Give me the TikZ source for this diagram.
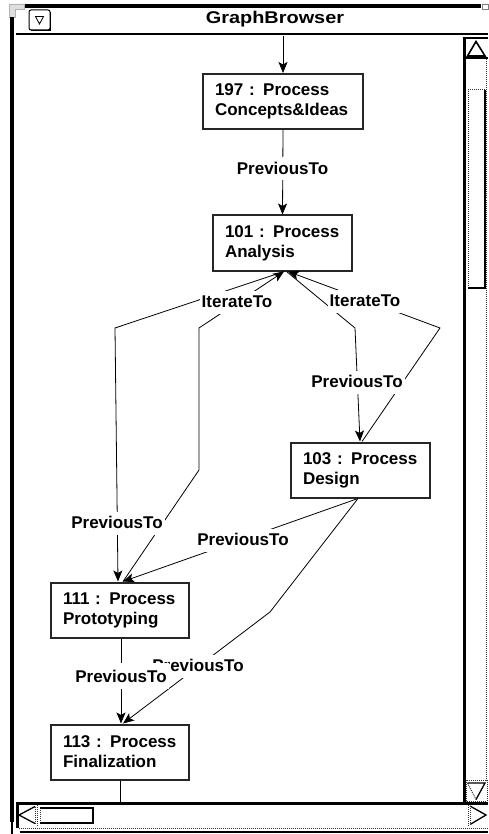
\documentclass[tikz,border=0pt]{standalone}
\usepackage{fontspec}
\setmainfont{Liberation Sans}
\newfontfamily\boxfont{Liberation Sans}
\usetikzlibrary{arrows.meta,calc}

\tikzset{
  proc/.style={draw=black!85, line width=2pt, fill=white, minimum height=55pt,
    inner xsep=12pt, inner ysep=0pt, align=left,
    font=\boxfont\bfseries\fontsize{17}{20}\selectfont},
  lbl/.style={fill=white, inner xsep=2pt, inner ysep=5pt, text height=12pt, text depth=1pt,
    font=\boxfont\bfseries\fontsize{17}{20}\selectfont},
  link/.style={line width=0.8pt},
  arr/.style={link, -{Stealth[length=11pt,width=9pt,inset=2.5pt]}},
  dotline/.style={line width=1pt, dash pattern=on 1pt off 1pt, black!80},
}

\begin{document}
\begin{tikzpicture}[x=1pt,y=-1pt]
\useasboundingbox (0,0) rectangle (488,834);
\fill[white] (0,0) rectangle (488,834);

% ---------- window frame and title bar ----------
\fill (25,4) rectangle (481,8);
\draw[gray, line width=0.8pt] (482.5,4.5) rectangle (488,9.5);
\filldraw[fill=gray!25, draw=gray!60, line width=0.6pt]
  (9,4) -- (24,4) -- (24,9) -- (15,9) -- (15,17) -- (9,17) -- cycle;
\fill (10,17) rectangle (14,822);
\fill (11,822) rectangle (13,834);
\fill (16,33) rectangle (488,35.5);
% close box
\draw[line width=1pt, rounded corners=2pt] (29,10) rectangle (50,30);
\draw[line width=1.2pt] (50.5,12) -- (50.5,30.5) -- (31,30.5);
\draw[line width=0.8pt] (35.5,16.5) -- (43.5,16.5) -- (39.5,24) -- cycle;
\node[font=\boxfont\bfseries\fontsize{17}{19}\selectfont, inner sep=0pt] (title) at (275,19)
  {\scalebox{1.17}[1]{GraphBrowser}};

% ---------- vertical scroll bar ----------
\fill (463,37) rectangle (488,39.5);
\fill (463,37) rectangle (466,803);
\draw[line width=1.6pt] (476,41.5) -- (485,56) -- (467.5,56) -- cycle;
\fill (466,57.5) rectangle (488,59.5);
\draw[dotline] (486.5,59.5) -- (486.5,780);
\draw[dotline] (485,90) -- (468,90) -- (468,288);
\draw[line width=1.3pt] (485,90) -- (485,288) -- (468,288);
\draw[dotline] (466,780) rectangle (487,801);
\draw[dotline] (467.5,783) -- (476,799.5);
\draw[line width=1.3pt] (467.5,783) -- (485,783) -- (476,799.5);

% ---------- horizontal scroll bar ----------
\fill (16,802) rectangle (488,804.5);
\fill (16,802) rectangle (18.5,828);
\draw[dotline] (18.5,828) -- (488,828);
\fill (20,831) rectangle (488,833);
\draw[dotline] (37.5,805) -- (37.5,827);
\draw[line width=1.3pt] (35,806.5) -- (19,815) -- (35,823.5);
\draw[dotline] (35,806.5) -- (35,823.5);
\draw[dotline] (40,808) -- (40,823);
\draw[line width=1.3pt] (40,808) -- (93,808) -- (93,823) -- (40,823);
\draw[dotline] (468.5,805) -- (468.5,827);
\draw[line width=1.3pt] (470,806) -- (486,815) -- (470,824.5);
\draw[dotline] (470,806) -- (470,824.5);

% ---------- process nodes ----------
\node[proc, text width=136pt] (n197) at (283,101.5) {197 : Process\\Concepts\&Ideas};
\node[proc, text width=115pt] (n101) at (282.5,243) {101 : Process\\Analysis};
\node[proc, text width=115pt] (n103) at (360.5,470) {103 : Process\\Design};
\node[proc, text width=114pt] (n111) at (120,610) {111 : Process\\Prototyping};
\node[proc, text width=114pt] (n113) at (120,752) {113 : Process\\Finalization};

% ---------- bend points ----------
\coordinate (topin) at (283,36);
\coordinate (bendA) at (115,328);
\coordinate (bendB1) at (199,328);
\coordinate (bendB2) at (199,470);
\coordinate (bendC) at (440,328);
\coordinate (bendD) at (355,328);
\coordinate (bendE) at (270,612);
\coordinate (tailF) at (120,802);

% ---------- connectors ----------
\draw[arr] (topin) -- (n197.north);
\draw[arr] (n197.south) -- (n101.north);
\draw[arr] ($(n101.south)+(1.5,0)$) -- (bendA) -- ($(n111.north)+(-2,0)$);
\draw[arr] ($(n111.north)+(3,0)$) -- (bendB2) -- (bendB1) -- ($(n101.south)+(1.5,0)$);
\draw[arr] ($(n103.north)+(1.5,0)$) -- (bendC) -- ($(n101.south)+(5.5,0)$);
\draw[arr] ($(n101.south)+(4,0)$) -- (bendD) -- ($(n103.north)+(-0.5,0)$);
\draw[arr] ($(n103.south)+(-2.5,0)$) -- ($(n111.north)+(3,0)$);
\draw[arr] ($(n103.south)+(-2.5,0)$) -- (bendE) -- ($(n113.north)+(3,0)$);
\draw[arr] ($(n111.south)+(1,0)$) -- ($(n113.north)+(1,0)$);
\draw[link] (n113.south) -- (tailF);

% ---------- connector labels ----------
\node[lbl] (l1) at (282.5,169) {PreviousTo};
\node[lbl] (l2) at (237,302) {IterateTo};
\node[lbl] (l3) at (365,301) {IterateTo};
\node[lbl] (l4) at (357,382) {PreviousTo};
\node[lbl] (l5) at (117,523) {PreviousTo};
\node[lbl] (l6) at (243,540) {PreviousTo};
\node[lbl] (l7) at (198,666) {PreviousTo};
\node[lbl, text height=14.5pt] (l8) at (121,675.75) {PreviousTo};
\end{tikzpicture}
\end{document}
